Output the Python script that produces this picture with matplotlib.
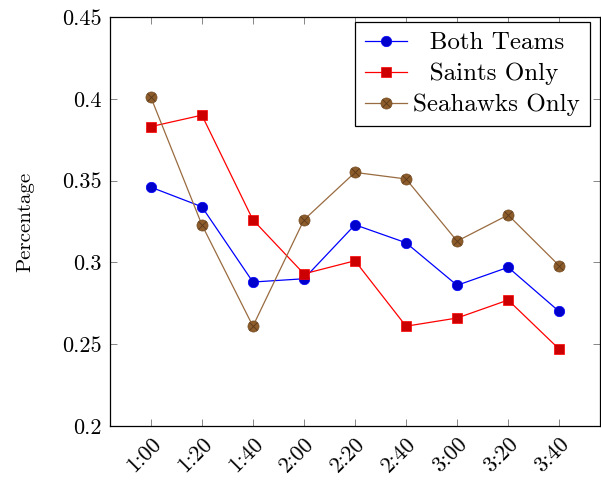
import matplotlib.pyplot as plt
from matplotlib.legend_handler import HandlerTuple

plt.rcParams['font.family'] = ['cmr10', 'DejaVu Serif']
plt.rcParams['axes.formatter.use_mathtext'] = True

# data
times = ['1:00', '1:20', '1:40', '2:00', '2:20', '2:40', '3:00', '3:20', '3:40']
both = [0.346, 0.334, 0.288, 0.290, 0.323, 0.312, 0.286, 0.297, 0.270]
saints = [0.383, 0.390, 0.326, 0.293, 0.301, 0.261, 0.266, 0.277, 0.247]
seahawks = [0.401, 0.323, 0.261, 0.326, 0.355, 0.351, 0.313, 0.329, 0.298]
yticks = [0.2, 0.25, 0.3, 0.35, 0.4, 0.45]
ytick_labels = ['0.2', '0.25', '0.3', '0.35', '0.4', '0.45']
# legend text is centred in pgfplots, pad the shorter ones
legend_labels = ['  Both Teams', '  Saints Only', 'Seahawks Only']

fig = plt.figure(figsize=(6.01, 4.83), dpi=100)
ax = fig.add_axes([110 / 601, 1 - 426 / 483, 490 / 601, 409 / 483])

x = list(range(len(times)))
l1, = ax.plot(x, both, color='blue', lw=0.9, marker='o', ms=7.5,
              mfc=(0, 0, 0.8), mec='blue', mew=0.5)
l2, = ax.plot(x, saints, color='red', lw=0.9, marker='s', ms=7.5,
              mfc=(0.8, 0, 0), mec='red', mew=0.5)
l3, = ax.plot(x, seahawks, color=(0.6, 0.42, 0.25), lw=0.9, marker='o', ms=8,
              mfc=(0.55, 0.36, 0.17), mec=(0.45, 0.3, 0.15), mew=0.5)
l3x, = ax.plot(x, seahawks, ls='none', marker='x', ms=5.5,
               mec=(0.35, 0.22, 0.1), mew=0.6)

ax.set_xlim(-0.8, 8.8)
ax.set_ylim(0.2, 0.45)
ax.set_xticks(x)
ax.set_xticklabels(times, rotation=45, ha='right', va='top',
                   rotation_mode='anchor', fontsize=16)
ax.set_yticks(yticks)
ax.set_yticklabels(ytick_labels, fontsize=16)
ax.tick_params(direction='in', length=5, width=0.6, color='0.45',
               top=True, right=True, pad=6)
ax.set_ylabel('Percentage', fontsize=15, labelpad=20)
for s in ax.spines.values():
    s.set_linewidth(0.9)

leg = ax.legend([l1, l2, (l3, l3x)], legend_labels,
                handler_map={tuple: HandlerTuple(ndivide=1)},
                loc='upper right', bbox_to_anchor=(0.9796, 0.988),
                borderaxespad=0, fontsize=18, fancybox=False, framealpha=1,
                edgecolor='black', handlelength=1.7, borderpad=0.4,
                labelspacing=0.34, handletextpad=0.25)
leg.get_frame().set_linewidth(0.9)

fig.savefig('out.png', dpi=100)
